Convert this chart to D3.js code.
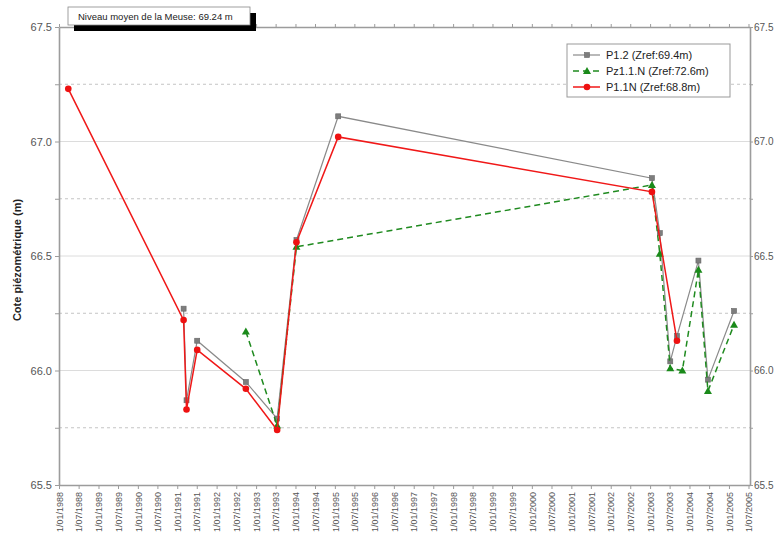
<!DOCTYPE html>
<html>
<head>
<meta charset="utf-8">
<script src="https://cdn.jsdelivr.net/npm/d3@7"></script>
<style>
  body { margin: 0; background: #fff; }
  svg { display: block; font-family: Arial, "Liberation Sans", sans-serif; }
</style>
</head>
<body>
<div id="chart"></div>
<script>
// Piezometric levels near the Meuse, three wells, 1988-2005

const titleText = "Niveau moyen de la Meuse: 69.24 m";
const yTitle = "Cote piézométrique (m)";

const p12Dates = ["1991-03-01", "1991-03-28", "1991-07-05", "1992-09-28", "1993-07-15", "1994-01-10", "1995-02-01",
  "2003-01-18", "2003-04-01", "2003-07-07", "2003-09-07", "2004-03-24", "2004-06-20", "2005-02-17"];
const p12Values = [66.27, 65.87, 66.13, 65.95, 65.79, 66.57, 67.11, 66.84, 66.60, 66.04, 66.15, 66.48, 65.96, 66.26];

const pz11Dates = ["1992-09-28", "1993-07-15", "1994-01-10", "2003-01-18", "2003-04-01", "2003-07-07",
  "2003-10-27", "2004-03-24", "2004-06-20", "2005-02-17"];
const pz11Values = [66.17, 65.76, 66.54, 66.81, 66.51, 66.01, 66.00, 66.44, 65.91, 66.20];

const p11Dates = ["1988-03-27", "1991-03-01", "1991-03-28", "1991-07-05", "1992-09-28", "1993-07-15",
  "1994-01-10", "1995-02-01", "2003-01-18", "2003-09-07"];
const p11Values = [67.23, 66.22, 65.83, 66.09, 65.92, 65.74, 66.56, 67.02, 66.78, 66.13];

const seriesNames = ["P1.2 (Zref:69.4m)", "Pz1.1.N (Zref:72.6m)", "P1.1N (Zref:68.8m)"];

const parse = d3.timeParse("%Y-%m-%d");
const zip = (ds, vs) => ds.map((d, i) => ({ date: parse(d), value: vs[i] }));

const series = [
  { name: seriesNames[0], data: zip(p12Dates, p12Values), color: "#8a8a8a", marker: "square", dash: null, width: 1.2 },
  { name: seriesNames[1], data: zip(pz11Dates, pz11Values), color: "#1f8a1f", marker: "triangle", dash: "6 4", width: 1.5 },
  { name: seriesNames[2], data: zip(p11Dates, p11Values), color: "#f01818", marker: "circle", dash: null, width: 1.5 }
];

const W = 776, H = 542;
const margin = { top: 27, right: 26, bottom: 57, left: 59 };

const svg = d3.select("#chart").append("svg").attr("width", W).attr("height", H);

const x = d3.scaleTime()
  .domain([parse("1988-01-01"), parse("2005-07-15")])
  .range([margin.left, W - margin.right]);
const y = d3.scaleLinear().domain([65.5, 67.5]).range([H - margin.bottom, margin.top]);

const x0 = x.range()[0], x1 = x.range()[1];

// grid: solid at 0.5, dashed at the quarters
const majors = d3.range(65.5, 67.51, 0.5);
const minors = d3.range(65.75, 67.5, 0.5);
svg.append("g").selectAll("line").data(majors.slice(1, -1)).join("line")
  .attr("x1", x0).attr("x2", x1).attr("y1", d => y(d)).attr("y2", d => y(d))
  .attr("stroke", "#dcdcdc").attr("stroke-width", 1);
svg.append("g").selectAll("line").data(minors).join("line")
  .attr("x1", x0).attr("x2", x1).attr("y1", d => y(d)).attr("y2", d => y(d))
  .attr("stroke", "#c4c4c4").attr("stroke-width", 1).attr("stroke-dasharray", "3 3");

// axes
const xTicks = d3.timeMonth.every(6).range(parse("1988-01-01"), parse("2005-07-02"));
const fmtX = d3.timeFormat("1/%m/%Y");

const gX = svg.append("g").attr("transform", `translate(0,${y(65.5)})`)
  .call(d3.axisBottom(x).tickValues(xTicks).tickFormat(fmtX).tickSize(4).tickSizeOuter(0));
gX.selectAll("text")
  .attr("transform", "rotate(-90)")
  .attr("text-anchor", "end")
  .attr("x", -7).attr("y", 0).attr("dy", "0.35em")
  .attr("font-size", 9).attr("fill", "#555");

svg.append("g").attr("transform", `translate(0,${y(67.5)})`)
  .call(d3.axisTop(x).tickValues(xTicks).tickFormat("").tickSize(3).tickSizeOuter(0));

const yTickVals = d3.range(65.5, 67.51, 0.25);
const fmtY = d => (d * 2) % 1 === 0 ? d3.format(".1f")(d) : "";
const gYL = svg.append("g").attr("transform", `translate(${x0},0)`)
  .call(d3.axisLeft(y).tickValues(yTickVals).tickFormat(fmtY).tickSize(4).tickSizeOuter(0));
const gYR = svg.append("g").attr("transform", `translate(${x1},0)`)
  .call(d3.axisRight(y).tickValues(yTickVals).tickFormat(fmtY).tickSize(3).tickPadding(1).tickSizeOuter(0));

svg.selectAll(".domain").attr("stroke", "#9c9c9c").attr("stroke-width", 1.6);
svg.selectAll(".tick line").attr("stroke", "#9c9c9c");
gYL.selectAll("text").attr("font-size", 11).attr("fill", "#555");
gYR.selectAll("text").attr("font-size", 10).attr("fill", "#555");

svg.append("text")
  .attr("transform", `translate(21,${(y(65.5) + y(67.5)) / 2 + 4}) rotate(-90)`)
  .attr("text-anchor", "middle").attr("font-size", 11).attr("font-weight", "bold").attr("fill", "#222")
  .text(yTitle);

// series
const line = d3.line().x(d => x(d.date)).y(d => y(d.value));

function marker(g, s, cx, cy) {
  if (s.marker === "square") {
    g.append("rect").attr("x", cx - 2.5).attr("y", cy - 2.5).attr("width", 5).attr("height", 5)
      .attr("fill", "#7d7d7d").attr("stroke", "#666").attr("stroke-width", 0.6);
  } else if (s.marker === "triangle") {
    g.append("path").attr("d", `M${cx},${cy - 4}L${cx + 4},${cy + 3}L${cx - 4},${cy + 3}Z`)
      .attr("fill", "#1a8a1a");
  } else {
    g.append("circle").attr("cx", cx).attr("cy", cy).attr("r", 3.3).attr("fill", "#ee1111");
  }
}

for (const s of series) {
  const g = svg.append("g");
  g.append("path").attr("d", line(s.data)).attr("fill", "none")
    .attr("stroke", s.color).attr("stroke-width", s.width)
    .attr("stroke-dasharray", s.dash);
  for (const d of s.data) marker(g, s, x(d.date), y(d.value));
}

// title box with shadow
const tb = svg.append("g");
tb.append("rect").attr("x", 74).attr("y", 13).attr("width", 182).attr("height", 18).attr("fill", "#000");
tb.append("rect").attr("x", 68).attr("y", 7).attr("width", 182).attr("height", 18)
  .attr("fill", "#fff").attr("stroke", "#888").attr("stroke-width", 0.8);
tb.append("text").attr("x", 78).attr("y", 19.5).attr("font-size", 9.5).attr("fill", "#222").text(titleText);

// legend
const lg = svg.append("g").attr("transform", "translate(567,44)");
lg.append("rect").attr("width", 163).attr("height", 53).attr("fill", "#fff")
  .attr("stroke", "#999").attr("stroke-width", 1);
series.forEach((s, i) => {
  const ly = 11 + i * 16;
  lg.append("line").attr("x1", 6).attr("x2", 33).attr("y1", ly).attr("y2", ly)
    .attr("stroke", s.color).attr("stroke-width", s.width).attr("stroke-dasharray", s.dash);
  marker(lg, s, 20, ly);
  lg.append("text").attr("x", 39).attr("y", ly + 4).attr("font-size", 11).attr("fill", "#222").text(s.name);
});
</script>
</body>
</html>
